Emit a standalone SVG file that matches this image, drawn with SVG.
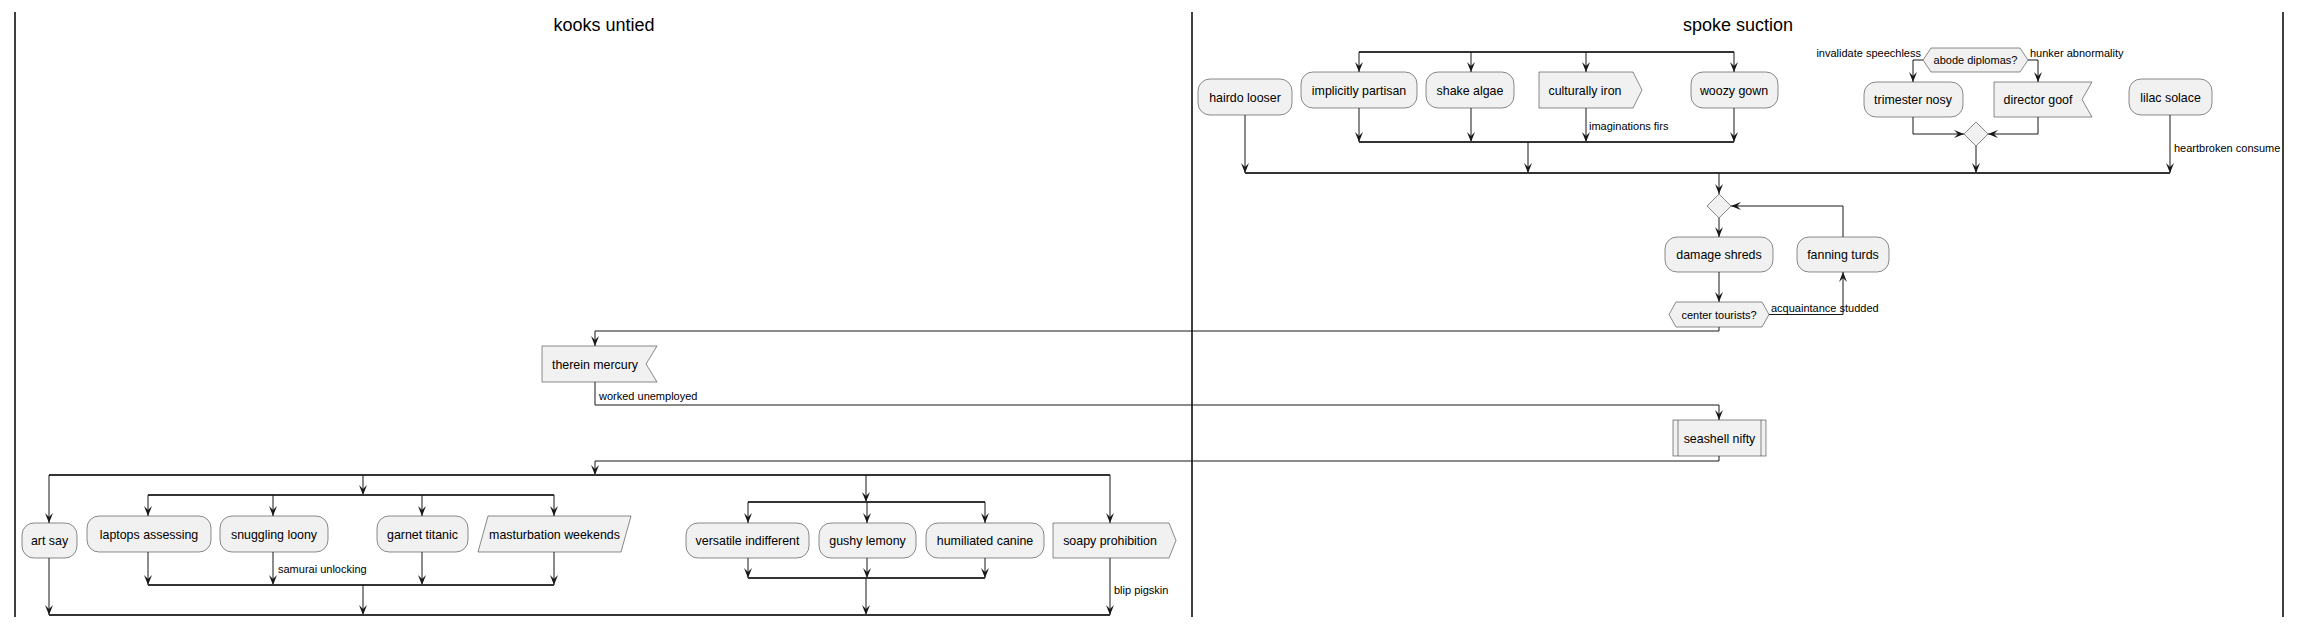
<svg xmlns="http://www.w3.org/2000/svg" width="2302" height="628" viewBox="0 0 2302 628">
<style>
.lane{stroke:#000;stroke-width:1.5;fill:none}
.title{font-family:"Liberation Sans",Arial,sans-serif;font-size:18px;fill:#000;text-anchor:middle}
.n{fill:#F1F1F1;stroke:#181818;stroke-width:0.5}
.t{font-family:"Liberation Sans",Arial,sans-serif;font-size:12.4px;fill:#000;text-anchor:middle}
.ts{font-family:"Liberation Sans",Arial,sans-serif;font-size:11px;fill:#000;text-anchor:middle}
.lbl{font-family:"Liberation Sans",Arial,sans-serif;font-size:11px;fill:#000}
.c{fill:none;stroke:#181818;stroke-width:1}
.ca{fill:none;stroke:#181818;stroke-width:1;marker-end:url(#ah)}
.bar{stroke:#333;stroke-width:2.2}
</style>
<defs>
<marker id="ah" viewBox="0 -5 11 10" refX="10" refY="0" markerWidth="11" markerHeight="10" markerUnits="userSpaceOnUse" orient="auto">
<path d="M0,-4 L10,0 L0,4 L4,0 Z" fill="#181818"/>
</marker>
</defs>
<g id="lanes">
<line class="lane" x1="15" y1="12" x2="15" y2="617"/>
<line class="lane" x1="1192" y1="12" x2="1192" y2="617"/>
<line class="lane" x1="2283" y1="12" x2="2283" y2="617"/>
<text class="title" x="604" y="31">kooks untied</text>
<text class="title" x="1738" y="31">spoke suction</text>
</g>
<g id="connectors">
<!-- top fork in spoke suction -->
<line class="bar" x1="1359" y1="52" x2="1734" y2="52"/>
<path class="ca" d="M1359,52 V72"/>
<path class="ca" d="M1471,52 V72"/>
<path class="ca" d="M1586,52 V72"/>
<path class="ca" d="M1734,52 V72"/>
<path class="ca" d="M1359,108 V142"/>
<path class="ca" d="M1471,108 V142"/>
<path class="ca" d="M1586,108 V142"/>
<path class="ca" d="M1734,108 V142"/>
<line class="bar" x1="1359" y1="142" x2="1734" y2="142"/>
<text class="lbl" x="1589" y="130">imaginations firs</text>
<path class="ca" d="M1528,142 V173"/>
<path class="ca" d="M1245,115 V173"/>
<!-- if abode diplomas -->
<path class="ca" d="M1923,60 H1913 V82"/>
<path class="ca" d="M2028,60 H2038 V82"/>
<text class="lbl" x="1921" y="57" text-anchor="end">invalidate speechless</text>
<text class="lbl" x="2030" y="57">hunker abnormality</text>
<path class="ca" d="M1913,117 V134 H1964"/>
<path class="ca" d="M2038,117 V134 H1988"/>
<path class="ca" d="M1976,146 V173"/>
<path class="ca" d="M2170,115 V173"/>
<text class="lbl" x="2174" y="152">heartbroken consume</text>
<line class="bar" x1="1245" y1="173" x2="2170" y2="173"/>
<!-- loop -->
<path class="ca" d="M1719,173 V194"/>
<path class="ca" d="M1719,218 V237"/>
<path class="ca" d="M1719,272 V302"/>
<path class="ca" d="M1769,314.5 H1843 V272"/>
<text class="lbl" x="1771" y="312">acquaintance studded</text>
<path class="ca" d="M1843,237 V206 H1731"/>
<path class="ca" d="M1719,327 V331 H595 V346"/>
<path class="ca" d="M595,382 V405 H1719 V420"/>
<text class="lbl" x="599" y="400">worked unemployed</text>
<path class="ca" d="M1719,456 V461 H595 V475"/>
<!-- bottom split -->
<line class="bar" x1="49" y1="475" x2="1110" y2="475"/>
<path class="ca" d="M49,475 V523"/>
<path class="ca" d="M363,475 V495"/>
<path class="ca" d="M866,475 V502"/>
<path class="ca" d="M1110,475 V523"/>
<line class="bar" x1="148" y1="495" x2="554" y2="495"/>
<path class="ca" d="M148,495 V516"/>
<path class="ca" d="M273,495 V516"/>
<path class="ca" d="M422,495 V516"/>
<path class="ca" d="M554,495 V516"/>
<path class="ca" d="M148,552 V585"/>
<path class="ca" d="M273,552 V585"/>
<path class="ca" d="M422,552 V585"/>
<path class="ca" d="M554,552 V585"/>
<text class="lbl" x="278" y="573">samurai unlocking</text>
<line class="bar" x1="148" y1="585" x2="554" y2="585"/>
<path class="ca" d="M363,585 V615"/>
<line class="bar" x1="748" y1="502" x2="985" y2="502"/>
<path class="ca" d="M748,502 V523"/>
<path class="ca" d="M867,502 V523"/>
<path class="ca" d="M985,502 V523"/>
<path class="ca" d="M748,558 V578"/>
<path class="ca" d="M867,558 V578"/>
<path class="ca" d="M985,558 V578"/>
<line class="bar" x1="748" y1="578" x2="985" y2="578"/>
<path class="ca" d="M866,578 V615"/>
<path class="ca" d="M49,558 V615"/>
<path class="ca" d="M1110,558 V615"/>
<text class="lbl" x="1114" y="594">blip pigskin</text>
<line class="bar" x1="49" y1="615" x2="1110" y2="615"/>
</g>
<g id="hairdo-looser"><rect class="n" x="1198" y="79" width="94" height="36" rx="12"/><text class="t" x="1245" y="101.5">hairdo looser</text></g>
<g id="implicitly-partisan"><rect class="n" x="1301" y="72" width="116" height="36" rx="12"/><text class="t" x="1359" y="94.5">implicitly partisan</text></g>
<g id="shake-algae"><rect class="n" x="1426" y="72" width="88" height="36" rx="12"/><text class="t" x="1470" y="94.5">shake algae</text></g>
<g id="culturally-iron"><path class="n" d="M1539,72 H1633 L1642,90 L1633,108 H1539 Z"/><text class="t" x="1585" y="94.5">culturally iron</text></g>
<g id="woozy-gown"><rect class="n" x="1691" y="72" width="87" height="36" rx="12"/><text class="t" x="1734" y="94.5">woozy gown</text></g>
<g id="abode-diplomas"><path class="n" d="M1923,60 L1931,48 H2020 L2028,60 L2020,72 H1931 Z"/><text class="ts" x="1975.5" y="64">abode diplomas?</text></g>
<g id="trimester-nosy"><rect class="n" x="1864" y="82" width="99" height="35" rx="12"/><text class="t" x="1913" y="104">trimester nosy</text></g>
<g id="director-goof"><path class="n" d="M1994,82 H2092 L2082,99.5 L2092,117 H1994 Z"/><text class="t" x="2038" y="104">director goof</text></g>
<g id="merge-if"><path class="n" d="M1976,122 L1988,134 L1976,146 L1964,134 Z"/></g>
<g id="lilac-solace"><rect class="n" x="2129" y="79" width="83" height="36" rx="12"/><text class="t" x="2170.5" y="101.5">lilac solace</text></g>
<g id="loop-merge"><path class="n" d="M1719,194 L1731,206 L1719,218 L1707,206 Z"/></g>
<g id="damage-shreds"><rect class="n" x="1665" y="237" width="108" height="35" rx="12"/><text class="t" x="1719" y="259">damage shreds</text></g>
<g id="fanning-turds"><rect class="n" x="1797" y="237" width="92" height="35" rx="12"/><text class="t" x="1843" y="259">fanning turds</text></g>
<g id="center-tourists"><path class="n" d="M1669,314.5 L1676,302 H1762 L1769,314.5 L1762,327 H1676 Z"/><text class="ts" x="1719" y="318.5">center tourists?</text></g>
<g id="therein-mercury"><path class="n" d="M542,346 H657 L646,364 L657,382 H542 Z"/><text class="t" x="595" y="368.5">therein mercury</text></g>
<g id="seashell-nifty"><rect class="n" x="1673" y="420" width="93" height="36"/><line class="n" x1="1678" y1="420" x2="1678" y2="456"/><line class="n" x1="1761" y1="420" x2="1761" y2="456"/><text class="t" x="1719.5" y="442.5">seashell nifty</text></g>
<g id="art-say"><rect class="n" x="22" y="523" width="55" height="35" rx="12"/><text class="t" x="49.5" y="545">art say</text></g>
<g id="laptops-assessing"><rect class="n" x="87" y="516" width="124" height="36" rx="12"/><text class="t" x="149" y="538.5">laptops assessing</text></g>
<g id="snuggling-loony"><rect class="n" x="220" y="516" width="108" height="36" rx="12"/><text class="t" x="274" y="538.5">snuggling loony</text></g>
<g id="garnet-titanic"><rect class="n" x="377" y="516" width="91" height="36" rx="12"/><text class="t" x="422.5" y="538.5">garnet titanic</text></g>
<g id="masturbation-weekends"><path class="n" d="M488,516 H631 L621,552 H478 Z"/><text class="t" x="554.5" y="538.5">masturbation weekends</text></g>
<g id="versatile-indifferent"><rect class="n" x="686" y="523" width="123" height="35" rx="12"/><text class="t" x="747.5" y="545">versatile indifferent</text></g>
<g id="gushy-lemony"><rect class="n" x="819" y="523" width="97" height="35" rx="12"/><text class="t" x="867.5" y="545">gushy lemony</text></g>
<g id="humiliated-canine"><rect class="n" x="926" y="523" width="118" height="35" rx="12"/><text class="t" x="985" y="545">humiliated canine</text></g>
<g id="soapy-prohibition"><path class="n" d="M1053,523 H1169 L1176,540.5 L1169,558 H1053 Z"/><text class="t" x="1110" y="545">soapy prohibition</text></g>
</svg>
